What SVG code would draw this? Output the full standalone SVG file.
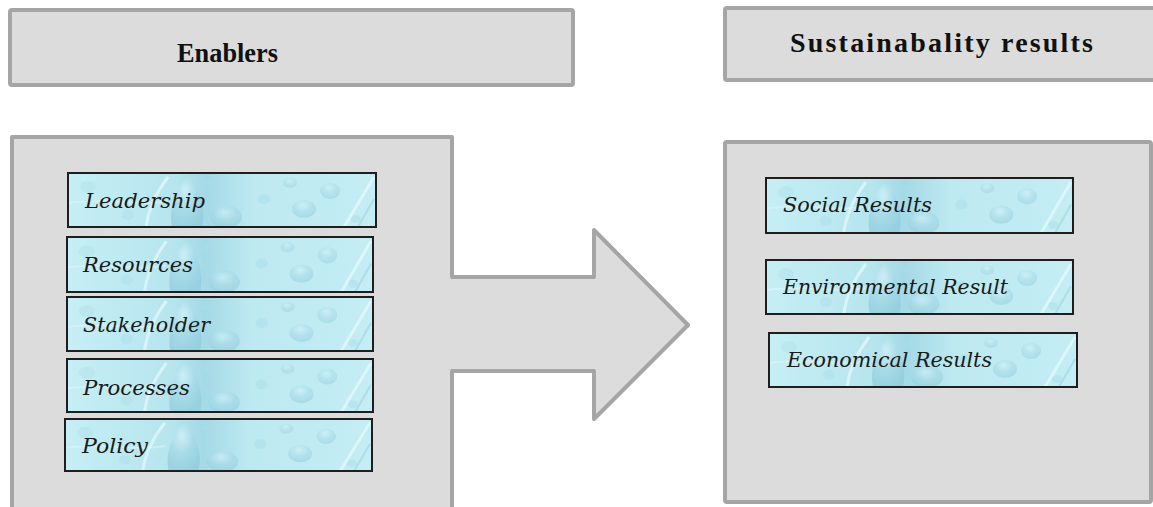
<svg xmlns="http://www.w3.org/2000/svg" width="1153" height="507" viewBox="0 0 1153 507">
<style>
.panel{fill:#dcdcdc;stroke:#a5a5a5;stroke-width:4;stroke-linejoin:round}
.hdr{font-family:"Liberation Serif","Times New Roman",serif;font-weight:bold;font-size:28px;fill:#111}
.box{fill:none;stroke:#1e1e1e;stroke-width:2}
.lbl{font-family:"DejaVu Serif","Liberation Serif",serif;font-style:italic;font-size:21px;fill:#1a1a1a}
</style>
<defs>
<linearGradient id="wg" x1="0" y1="0" x2="1" y2="0">
<stop offset="0" stop-color="#c6eef5"/>
<stop offset="0.35" stop-color="#b6e5ee"/>
<stop offset="0.45" stop-color="#a4d9e6"/>
<stop offset="0.6" stop-color="#bde9f1"/>
<stop offset="1" stop-color="#c4edf4"/>
</linearGradient>
<radialGradient id="drop" cx="0.45" cy="0.3" r="0.7">
<stop offset="0" stop-color="#d8f5fa"/>
<stop offset="0.5" stop-color="#a6d9e6"/>
<stop offset="1" stop-color="#8ecbdc"/>
</radialGradient>
<symbol id="water" viewBox="0 0 308 54" preserveAspectRatio="none">
<rect width="308" height="54" fill="url(#wg)"/>
<path d="M104,54 C100,36 108,16 120,2 C132,16 138,36 134,54 Z" fill="url(#drop)" opacity="0.7"/>
<path d="M78,54 C80,38 88,20 100,4" fill="none" stroke="#e6fafd" stroke-width="3" opacity="0.7"/>
<ellipse cx="158" cy="44" rx="16" ry="11" fill="url(#drop)" opacity="0.55"/>
<ellipse cx="236" cy="36" rx="12" ry="9" fill="url(#drop)" opacity="0.5"/>
<ellipse cx="262" cy="18" rx="10" ry="8" fill="url(#drop)" opacity="0.45"/>
<ellipse cx="222" cy="10" rx="7" ry="5" fill="url(#drop)" opacity="0.4"/>
<ellipse cx="196" cy="26" rx="6" ry="5" fill="#a9dde9" opacity="0.5"/>
<ellipse cx="60" cy="42" rx="6" ry="5" fill="#a9dde9" opacity="0.45"/>
<ellipse cx="20" cy="14" rx="8" ry="6" fill="#a9dde9" opacity="0.35"/>
<ellipse cx="288" cy="46" rx="5" ry="4" fill="#a9dde9" opacity="0.45"/>
<ellipse cx="140" cy="10" rx="4" ry="3" fill="#a9dde9" opacity="0.45"/>
<path d="M276,54 L306,4" stroke="#e8fbfe" stroke-width="3" opacity="0.7"/>
<path d="M290,54 L306,26" stroke="#8fcfdf" stroke-width="2" opacity="0.45"/>
<path d="M0,30 C40,24 70,34 100,28" fill="none" stroke="#dff7fb" stroke-width="2" opacity="0.5"/>
</symbol>
</defs>
<rect width="1153" height="507" fill="#ffffff"/>

<g id="enablers-header">
<rect class="panel" x="10" y="10" width="563" height="75" rx="2"/>
<text class="hdr" x="177" y="62" textLength="101" lengthAdjust="spacingAndGlyphs">Enablers</text>
</g>

<g id="results-header">
<rect class="panel" x="725" y="8" width="450" height="72" rx="2"/>
<text class="hdr" x="790" y="52" textLength="303" lengthAdjust="spacing">Sustainabality results</text>
</g>

<g id="enablers-panel">
<path class="panel" d="M12,512 L12,137 L452,137 L452,277 L594,277 L594,230 L688,325 L594,419 L594,371 L452,371 L452,512"/>
</g>

<g id="results-panel">
<rect class="panel" x="725" y="142" width="426" height="360" rx="2"/>
</g>

<g id="leadership">
<use href="#water" x="68" y="173" width="308" height="54"/>
<rect class="box" x="68" y="173" width="308" height="54"/>
<text class="lbl" x="85" y="208" textLength="120" lengthAdjust="spacingAndGlyphs">Leadership</text>
</g>
<g id="resources">
<use href="#water" x="67" y="237" width="306" height="55"/>
<rect class="box" x="67" y="237" width="306" height="55"/>
<text class="lbl" x="83" y="272" textLength="110" lengthAdjust="spacingAndGlyphs">Resources</text>
</g>
<g id="stakeholder">
<use href="#water" x="67" y="297" width="306" height="54"/>
<rect class="box" x="67" y="297" width="306" height="54"/>
<text class="lbl" x="83" y="332" textLength="127" lengthAdjust="spacingAndGlyphs">Stakeholder</text>
</g>
<g id="processes">
<use href="#water" x="67" y="359" width="306" height="53"/>
<rect class="box" x="67" y="359" width="306" height="53"/>
<text class="lbl" x="83" y="395" textLength="107" lengthAdjust="spacingAndGlyphs">Processes</text>
</g>
<g id="policy">
<use href="#water" x="65" y="419" width="307" height="52"/>
<rect class="box" x="65" y="419" width="307" height="52"/>
<text class="lbl" x="82" y="453" textLength="66" lengthAdjust="spacingAndGlyphs">Policy</text>
</g>

<g id="social-results">
<use href="#water" x="766" y="178" width="307" height="55"/>
<rect class="box" x="766" y="178" width="307" height="55"/>
<text class="lbl" x="783" y="212" textLength="149" lengthAdjust="spacingAndGlyphs">Social Results</text>
</g>
<g id="environmental-result">
<use href="#water" x="766" y="260" width="307" height="54"/>
<rect class="box" x="766" y="260" width="307" height="54"/>
<text class="lbl" x="783" y="294" textLength="225" lengthAdjust="spacingAndGlyphs">Environmental Result</text>
</g>
<g id="economical-results">
<use href="#water" x="769" y="333" width="308" height="54"/>
<rect class="box" x="769" y="333" width="308" height="54"/>
<text class="lbl" x="787" y="367" textLength="205" lengthAdjust="spacingAndGlyphs">Economical Results</text>
</g>
</svg>
